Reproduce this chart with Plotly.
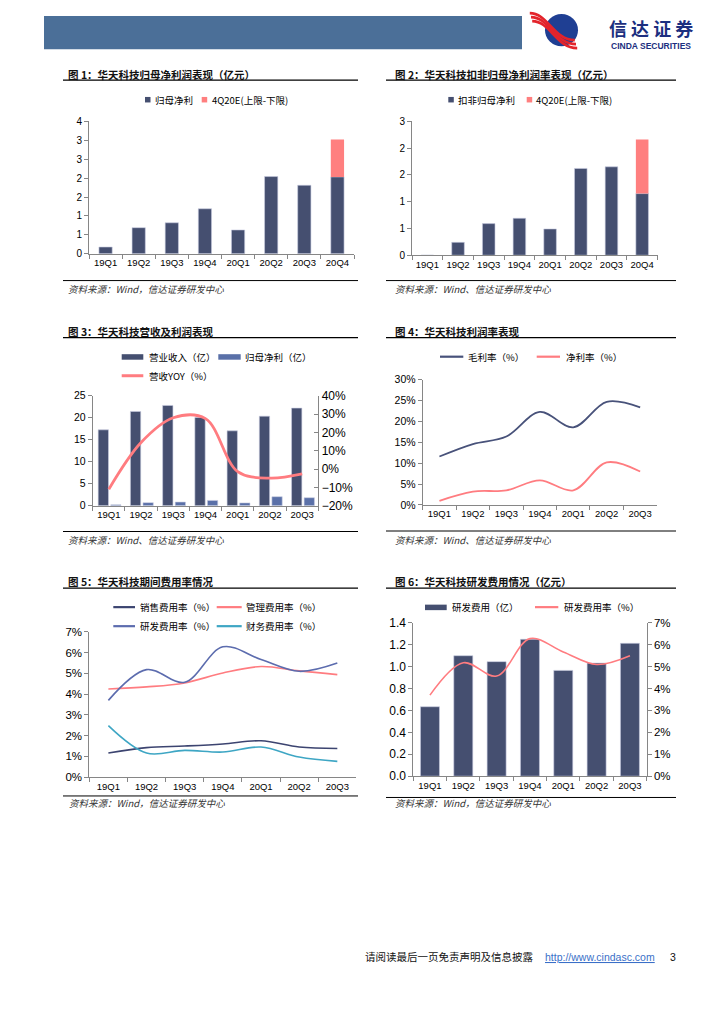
import plotly.graph_objects as go

W, H = 724, 1024
# the photographed page shows the figure offset (and vertically scaled); compensate
OX = 8.0
SY, OY = 0.9846, 15.9


def X(px):
    return (px - OX) / W


def Y(py):
    return 1 - ((py - OY) / SY) / H


# ---------------- data ----------------
QUARTERS_8 = ["19Q1", "19Q2", "19Q3", "19Q4", "20Q1", "20Q2", "20Q3", "20Q4"]
QUARTERS_7 = ["19Q1", "19Q2", "19Q3", "19Q4", "20Q1", "20Q2", "20Q3"]

# Chart 1: 归母净利润 (亿元)
NET_PROFIT = [0.18, 0.69, 0.82, 1.19, 0.63, 2.04, 1.81, 2.03]
NET_PROFIT_EST_RANGE = [0.99]          # 4Q20E 上限-下限 (stacked on 20Q4)
C1_TICKVALS = [0, 0.5, 1, 1.5, 2, 2.5, 3, 3.5]
C1_TICKTEXT = ["0", "1", "1", "2", "2", "3", "3", "4"]

# Chart 2: 扣非归母净利润 (亿元)
DEDUCT_PROFIT = [0.0, 0.24, 0.59, 0.69, 0.49, 1.62, 1.65, 1.15]
DEDUCT_EST_RANGE = [1.01]
C2_TICKVALS = [0, 0.5, 1, 1.5, 2, 2.5]
C2_TICKTEXT = ["0", "1", "1", "2", "2", "3"]

# Chart 3: 营收 / 归母净利 (亿) / 营收YOY (%)
REVENUE = [17.25, 21.43, 22.80, 20.06, 17.02, 20.36, 22.19]
NET_PROFIT_Q = [0.18, 0.69, 0.82, 1.19, 0.63, 2.04, 1.81]
REVENUE_YOY = [-11.0, 14.5, 28.0, 27.5, -1.4, -5.0, -2.7]

# Chart 4: 毛利率 / 净利率 (%)
GROSS_MARGIN = [11.6, 14.6, 16.4, 22.3, 18.6, 24.7, 23.4]
NET_MARGIN = [1.0, 3.2, 3.5, 5.9, 3.5, 10.2, 8.0]

# Chart 5: 期间费用率 (%)
SALES_RATE = [1.16, 1.42, 1.50, 1.60, 1.75, 1.45, 1.38]
ADMIN_RATE = [4.25, 4.35, 4.54, 5.02, 5.33, 5.12, 4.94]
RD_RATE = [3.70, 5.18, 4.57, 6.28, 5.67, 5.10, 5.50]
FIN_RATE = [2.48, 1.16, 1.29, 1.21, 1.45, 0.97, 0.76]

# Chart 6: 研发费用 (亿) / 研发费用率 (%)
RD_EXPENSE = [0.634, 1.100, 1.046, 1.250, 0.966, 1.033, 1.213]

# ---------------- styles ----------------
NAVY = "#454f70"
LIGHT_BLUE = "#5a70a8"
PINK_BAR = "#ff7f7f"
PINK_LINE = "#ff7c80"
GROSS_C = "#48527a"
SALES_C = "#3c4470"
RD_C = "#5c6cae"
FIN_C = "#3ea6c4"
AXIS_C = "#868686"
NUM_FONT = "Liberation Sans, Arial, sans-serif"
CJK_FONT = "Noto Sans CJK SC, sans-serif"
BAR_EDGE = dict(color="#c9cde0", width=0.6)

fig = go.Figure()


def cat_x(x0, x1, anchor, n, size):
    return dict(domain=[X(x0), X(x1)], anchor=anchor, type="category",
                range=[-0.5, n - 0.5], showline=True, linecolor=AXIS_C,
                linewidth=1, ticks="outside", tickson="boundaries", ticklen=4,
                tickcolor=AXIS_C, showgrid=False, zeroline=False, tickangle=0,
                tickfont=dict(size=size, color="#000", family=NUM_FONT),
                fixedrange=True)


def val_y(top, bottom, anchor, rng, size, **kw):
    d = dict(domain=[Y(bottom), Y(top)], anchor=anchor, range=rng,
             showline=True, linecolor=AXIS_C, linewidth=1, ticks="outside",
             ticklen=4, tickcolor=AXIS_C, showgrid=False, zeroline=False,
             tickfont=dict(size=size, color="#000", family=NUM_FONT),
             fixedrange=True)
    d.update(kw)
    return d


# ---------- Chart 1 ----------
fig.add_trace(go.Bar(x=QUARTERS_8, y=NET_PROFIT, width=0.4, marker=dict(color=NAVY, line=BAR_EDGE),
                     xaxis="x", yaxis="y", name="归母净利", showlegend=False))
fig.add_trace(go.Bar(x=QUARTERS_8[-1:], y=NET_PROFIT_EST_RANGE, base=NET_PROFIT[-1:], width=0.4,
                     marker=dict(color=PINK_BAR, line=dict(width=0)), xaxis="x", yaxis="y",
                     name="4Q20E(上限-下限)", showlegend=False))

# ---------- Chart 2 ----------
fig.add_trace(go.Bar(x=QUARTERS_8, y=DEDUCT_PROFIT, width=0.41, marker=dict(color=NAVY, line=BAR_EDGE),
                     xaxis="x2", yaxis="y2", name="扣非归母净利", showlegend=False))
fig.add_trace(go.Bar(x=QUARTERS_8[-1:], y=DEDUCT_EST_RANGE, base=DEDUCT_PROFIT[-1:], width=0.41,
                     marker=dict(color=PINK_BAR, line=dict(width=0)), xaxis="x2", yaxis="y2",
                     name="4Q20E(上限-下限)", showlegend=False))

# ---------- Chart 3 ----------
fig.add_trace(go.Bar(x=QUARTERS_7, y=REVENUE, width=0.32, offset=-0.33,
                     marker=dict(color=NAVY, line=BAR_EDGE), xaxis="x3", yaxis="y3",
                     name="营业收入（亿）", showlegend=False))
fig.add_trace(go.Bar(x=QUARTERS_7, y=NET_PROFIT_Q, width=0.32, offset=0.06,
                     marker=dict(color=LIGHT_BLUE, line=BAR_EDGE), xaxis="x3", yaxis="y3",
                     name="归母净利（亿）", showlegend=False))
fig.add_trace(go.Scatter(x=QUARTERS_7, y=REVENUE_YOY, mode="lines",
                         line=dict(color=PINK_LINE, width=2.8, shape="spline", smoothing=1.0),
                         xaxis="x3", yaxis="y7", name="营收YOY（%）", showlegend=False))

# ---------- Chart 4 ----------
fig.add_trace(go.Scatter(x=QUARTERS_7, y=GROSS_MARGIN, mode="lines",
                         line=dict(color=GROSS_C, width=1.8, shape="spline", smoothing=1.0),
                         xaxis="x4", yaxis="y4", name="毛利率（%）", showlegend=False))
fig.add_trace(go.Scatter(x=QUARTERS_7, y=NET_MARGIN, mode="lines",
                         line=dict(color=PINK_LINE, width=1.8, shape="spline", smoothing=1.0),
                         xaxis="x4", yaxis="y4", name="净利率（%）", showlegend=False))

# ---------- Chart 5 ----------
for vals, col, nm in [(SALES_RATE, SALES_C, "销售费用率（%）"),
                      (ADMIN_RATE, PINK_LINE, "管理费用率（%）"),
                      (RD_RATE, RD_C, "研发费用率（%）"),
                      (FIN_RATE, FIN_C, "财务费用率（%）")]:
    fig.add_trace(go.Scatter(x=QUARTERS_7, y=vals, mode="lines",
                             line=dict(color=col, width=1.6, shape="spline", smoothing=1.0),
                             xaxis="x5", yaxis="y5", name=nm, showlegend=False))

# ---------- Chart 6 ----------
fig.add_trace(go.Bar(x=QUARTERS_7, y=RD_EXPENSE, width=0.57, marker=dict(color=NAVY, line=BAR_EDGE),
                     xaxis="x6", yaxis="y6", name="研发费用（亿）", showlegend=False))
fig.add_trace(go.Scatter(x=QUARTERS_7, y=RD_RATE, mode="lines",
                         line=dict(color=PINK_LINE, width=1.6, shape="spline", smoothing=1.0),
                         xaxis="x6", yaxis="y8", name="研发费用率（%）", showlegend=False))

layout = dict(
    width=W, height=H, margin=dict(l=0, r=0, t=0, b=0),
    paper_bgcolor="white", plot_bgcolor="white", barmode="overlay",
    showlegend=False,
    xaxis=cat_x(89, 354, "y", 8, 9.5),
    yaxis=val_y(122, 254.3, "x", [0, 3.5], 10, tickvals=C1_TICKVALS, ticktext=C1_TICKTEXT),
    xaxis2=cat_x(412, 657.5, "y2", 8, 9.5),
    yaxis2=val_y(122, 255.7, "x2", [0, 2.5], 10, tickvals=C2_TICKVALS, ticktext=C2_TICKTEXT),
    xaxis3=cat_x(92.7, 318.3, "y3", 7, 9.5),
    yaxis3=val_y(396, 505.7, "x3", [0, 25], 10.5, dtick=5),
    yaxis7=dict(overlaying="y3", side="right", anchor="x3", range=[-20, 40], dtick=10,
                ticksuffix="%", showline=True, linecolor=AXIS_C, linewidth=1, ticks="inside",
                ticklen=4, tickcolor=AXIS_C, showgrid=False, zeroline=False,
                tickfont=dict(size=12, color="#000", family=NUM_FONT), fixedrange=True),
    xaxis4=cat_x(422.7, 656.9, "y4", 7, 9.5),
    yaxis4=val_y(380, 505, "x4", [0, 30], 10.5, dtick=5, ticksuffix="%"),
    xaxis5=cat_x(89.3, 356.4, "y5", 7, 9.5),
    yaxis5=val_y(631.7, 776.7, "x5", [0, 7], 11.5, dtick=1, ticksuffix="%"),
    xaxis6=cat_x(413.3, 646.6, "y6", 7, 9.5),
    yaxis6=val_y(622.7, 775.7, "x6", [0, 1.4], 12, dtick=0.2, tickformat=".1f"),
    yaxis8=dict(overlaying="y6", side="right", anchor="x6", range=[0, 7], dtick=1,
                ticksuffix="%", showline=True, linecolor=AXIS_C, linewidth=1, ticks="outside",
                ticklen=4, tickcolor=AXIS_C, showgrid=False, zeroline=False,
                tickfont=dict(size=11.5, color="#000", family=NUM_FONT), fixedrange=True),
)
fig.update_layout(**layout)

shapes = []
annos = []


def hline(x0, x1, y, color="#000", width=1.2):
    shapes.append(dict(type="line", xref="paper", yref="paper", x0=X(x0), x1=X(x1),
                       y0=Y(y), y1=Y(y), line=dict(color=color, width=width)))


def rect(x0, x1, y0, y1, color):
    shapes.append(dict(type="rect", xref="paper", yref="paper", x0=X(x0), x1=X(x1),
                       y0=Y(y1), y1=Y(y0), fillcolor=color, line=dict(width=0)))


def text(x, y, s, size=9.5, color="#000", family=CJK_FONT, xanchor="left"):
    annos.append(dict(xref="paper", yref="paper", x=X(x), y=Y(y), text=s, showarrow=False,
                      xanchor=xanchor, yanchor="middle",
                      font=dict(size=size, color=color, family=family)))


def legend_line(x0, x1, y, color, label_x, label, width=2.2):
    hline(x0, x1, y, color=color, width=width)
    text(label_x, y, label)


def legend_box(x0, x1, y0, y1, color, label_x, label):
    rect(x0, x1, y0, y1, color)
    text(label_x, (y0 + y1) / 2, label)


# ---------- header ----------
rect(44, 522, 17, 50, "#4b6f98")
shapes.append(dict(type="circle", xref="paper", yref="paper", x0=X(545), x1=X(578),
                   y0=Y(47), y1=Y(15), fillcolor="#1f3f93", line=dict(width=0)))
for off in (-4.0, 0.0, 4.0):
    p = [(531 + off * 0.3, 18 + off), (549 + off * 0.3, 18 + off),
         (555 + off * 0.3, 45 + off), (576 + off * 0.3, 45 + off)]
    path = "M {},{} C {},{} {},{} {},{}".format(
        X(p[0][0]), Y(p[0][1]), X(p[1][0]), Y(p[1][1]),
        X(p[2][0]), Y(p[2][1]), X(p[3][0]), Y(p[3][1]))
    shapes.append(dict(type="path", xref="paper", yref="paper", path=path,
                       line=dict(color="#e3242b", width=2.6)))
text(651, 28.5, "<b>信 达 证 券</b>", size=18, color="#1c2f80", xanchor="center")
text(651, 46.5, "<b>CINDA SECURITIES</b>", size=8.5, color="#1c2f80", family=NUM_FONT,
     xanchor="center")

# ---------- titles, rules and sources ----------
TITLES = [
    (65.7, 75, "图 1：华天科技归母净利润表现（亿元）"),
    (393, 75, "图 2：华天科技扣非归母净利润率表现（亿元）"),
    (65.7, 331.5, "图 3：华天科技营收及利润表现"),
    (393, 331.5, "图 4：华天科技利润率表现"),
    (65.7, 581.5, "图 5：华天科技期间费用率情况"),
    (393, 581.5, "图 6：华天科技研发费用情况（亿元）"),
]
for x, y, s in TITLES:
    text(x, y, "<b>" + s + "</b>", size=10.5, color="#111")

for x0, x1, y in [(63, 358, 81), (386, 676, 81), (63, 358, 338), (386, 676, 338),
                  (63, 358, 588), (386, 676, 588)]:
    hline(x0, x1, y, width=1.2)
for x0, x1, y in [(63, 358, 281), (386, 676, 281), (63, 358, 531.5), (386, 676, 531),
                  (63, 358, 795.5), (386, 676, 797)]:
    hline(x0, x1, y, width=1.0)

SOURCES = [
    (65.7, 289, "资料来源：Wind，信达证券研发中心"),
    (393, 289, "资料来源：Wind、信达证券研发中心"),
    (65.7, 539.5, "资料来源：Wind、信达证券研发中心"),
    (393, 539.5, "资料来源：Wind、信达证券研发中心"),
    (66.7, 802.5, "资料来源：Wind，信达证券研发中心"),
    (393, 803, "资料来源：Wind，信达证券研发中心"),
]
for x, y, s in SOURCES:
    text(x, y, "<i>" + s + "</i>", size=9.5, color="#333")

# ---------- legends ----------
legend_box(145, 150.5, 97.7, 103.2, NAVY, 153, "归母净利")
legend_box(201.7, 207.2, 97.7, 103.2, PINK_BAR, 209.5, "4Q20E(上限-下限)")

legend_box(448.3, 453.8, 97.7, 103.2, NAVY, 456, "扣非归母净利")
legend_box(526.7, 532.2, 97.7, 103.2, PINK_BAR, 534, "4Q20E(上限-下限)")

legend_box(121.7, 143.3, 354.5, 360, NAVY, 146.7, "营业收入（亿）")
legend_box(218.3, 240.7, 354.5, 360, LIGHT_BLUE, 243.3, "归母净利（亿）")
legend_line(121.7, 143.3, 376, PINK_LINE, 146.7, "营收YOY（%）", width=3)

legend_line(440, 463.3, 357, GROSS_C, 466, "毛利率（%）")
legend_line(536.7, 560, 357, PINK_LINE, 564, "净利率（%）")

legend_line(113.3, 135, 607, SALES_C, 138.3, "销售费用率（%）")
legend_line(216.7, 241.7, 607, PINK_LINE, 244.3, "管理费用率（%）")
legend_line(113.3, 135, 626, RD_C, 138.3, "研发费用率（%）")
legend_line(216.7, 241.7, 626, FIN_C, 244.3, "财务费用率（%）")

legend_box(425, 446.7, 604.5, 610, NAVY, 450, "研发费用（亿）")
legend_line(535, 558.3, 607, PINK_LINE, 561.7, "研发费用率（%）")

# ---------- footer ----------
text(363, 956, "请阅读最后一页免责声明及信息披露", size=10.5, color="#111")
text(543, 956, "<u>http://www.cindasc.com</u>", size=10.5, color="#3a6fc8", family=NUM_FONT)
text(668, 956, "3", size=10.5, color="#111", family=NUM_FONT)

fig.update_layout(shapes=shapes, annotations=annos)
fig.write_html("out.html")
